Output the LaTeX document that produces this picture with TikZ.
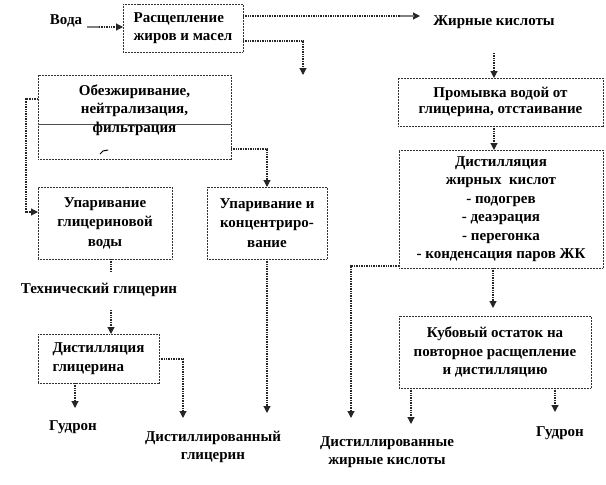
\documentclass[tikz,border=0pt]{standalone}
\usepackage{fontspec}
\setmainfont{Liberation Serif}
\usetikzlibrary{arrows.meta,calc}
\begin{document}
\begin{tikzpicture}[x=1pt,y=-1pt,
  every node/.style={font=\fontsize{15}{18.5}\selectfont\bfseries, inner sep=0pt, outer sep=0pt},
  box/.style={draw=black!80, line width=0.9pt, dash pattern=on 1pt off 0.5pt, fill=white, anchor=north west},
  conn/.style={draw=black!85, line width=1.2pt, dash pattern=on 1pt off 0.7pt, -{Triangle[width=7pt,length=7pt]}},
  plainc/.style={draw=black!85, line width=1.2pt, dash pattern=on 1pt off 0.7pt},
  graystub/.style={draw=gray, line width=1.8pt}
]
\useasboundingbox (0,0) rectangle (606,485);
% boxes
\node[box, minimum width=120pt, minimum height=48pt, align=left] (ras) at (123,4) {Расщепление\\жиров и масел};
\node[box, minimum width=193pt, minimum height=84pt] (ob) at (38,75) {};
\node[box, minimum width=205pt, minimum height=48pt, align=center, font=\fontsize{15}{16.5}\selectfont\bfseries] (prom) at (398,78) {Промывка водой от\\глицерина, отстаивание};
\node[box, minimum width=204pt, minimum height=118pt, align=center] (dk) at (399,150) {Дистилляция\\жирных\ \ кислот\\- подогрев\\- деаэрация\\- перегонка\\- конденсация паров ЖК};
\node[box, minimum width=134pt, minimum height=72pt, align=center, font=\fontsize{15}{19.5}\selectfont\bfseries] (ug) at (38,187) {Упаривание\\глицериновой\\воды};
\node[box, minimum width=120pt, minimum height=72pt, align=center, font=\fontsize{15}{19.5}\selectfont\bfseries] (uk) at (207,187) {Упаривание и\\концентриро-\\вание};
\node[box, minimum width=121pt, minimum height=49pt, align=left] (dg) at (38,334) {Дистилляция\\глицерина};
\node[box, minimum width=192pt, minimum height=72pt, align=center] (kub) at (399,316) {Кубовый остаток на\\повторное расщепление\\и дистилляцию};
% text inside ob
\draw[black!70, line width=0.8pt] (ob.west |- 0,124) -- (ob.east |- 0,124);
\node[align=center] (obt) at (134.5,110) {Обезжиривание,\\нейтрализация,\\фильтрация};
\draw[black, line width=1pt] (100,154) -- (103,151) -- (108,150);
% free texts
\node (voda) at (66,21) {Вода};
\node (zk) at (494,22) {Жирные кислоты};
\node (tg) at (99,290) {Технический глицерин};
\node (gud1) at (73,427) {Гудрон};
\node[align=center] (dgl) at (213,447) {Дистиллированный\\глицерин};
\node[align=center] (dzk) at (387,452) {Дистиллированные\\жирные кислоты};
\node (gud2) at (560,433) {Гудрон};
% coordinates
\coordinate (v1) at (87,27);
\coordinate (zkin) at (420,16);
\coordinate (g1) at (303,75);
\coordinate (z2) at (494,53);
\coordinate (k0) at (493,308);
% connectors
\draw[conn] (v1) -- (v1 -| ras.west);
\draw[graystub] (v1) -- (99,27);
\draw[conn] (ras.east |- zkin) -- (zkin);
\draw[graystub] (400,16) -- (414,16);
\draw[conn] (ras.east |- 0,41) -| (g1);
\draw[conn] (z2) -- (z2 |- prom.north);
\draw[conn] (494,126) -- (494,150);
\draw[conn] (ob.west |- 0,99) -- (26,99) -- (26,212) -- (ug.west |- 0,212);
\draw[conn] (ob.east |- 0,149) -| (uk.north -| 267,0);
\draw[plainc] (ug.south -| 111,0) -- (111,272);
\draw[conn] (111,310) -- (dg.north -| 111,0);
\draw[conn] (uk.south -| 267,0) -- (267,413);
\draw[conn] (dg.south -| 75,0) -- (75,408);
\draw[conn] (dg.east |- 0,359) -| (183,418);
\draw[conn] (dk.south -| k0) -- (k0);
\draw[conn] (dk.west |- 0,266) -| (351,418);
\draw[conn] (kub.south -| 411,0) -- (411,424);
\draw[conn] (kub.south -| 555,0) -- (555,412);
\end{tikzpicture}
\end{document}
